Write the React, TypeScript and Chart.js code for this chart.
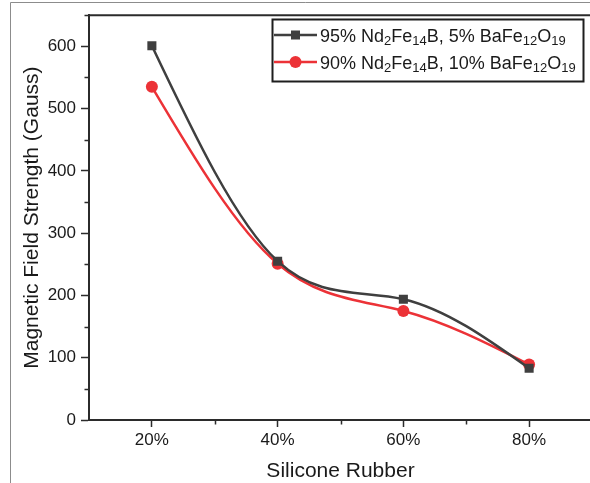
import React, { useEffect, useRef } from "react";
import { Chart, registerables } from "chart.js";

Chart.register(...registerables);

// ---- data ----
const xValues = [20, 40, 60, 80];
const series95 = [601, 255, 194, 83];
const series90 = [535, 251, 175, 89];
const xTicks = [20, 40, 60, 80];
const yTicks = [0, 100, 200, 300, 400, 500, 600];
const xMinorTicks = [30, 50, 70];
const yMinorTicks = [50, 150, 250, 350, 450, 550, 650];
const xTitle = "Silicone Rubber";
const yTitle = "Magnetic Field Strength (Gauss)";
// legend labels: [text, isSubscript]
const legend95: [string, boolean][] = [
  ["95% Nd", false], ["2", true], ["Fe", false], ["14", true],
  ["B, 5% BaFe", false], ["12", true], ["O", false], ["19", true],
];
const legend90: [string, boolean][] = [
  ["90% Nd", false], ["2", true], ["Fe", false], ["14", true],
  ["B, 10% BaFe", false], ["12", true], ["O", false], ["19", true],
];

const FONT = '"Liberation Sans", Arial, sans-serif';
const BLACK = "#3f3f3f";
const RED = "#ec3237";
const AXIS = "#2b2b2b";

// slopes of a natural cubic spline through (xs, ys), in data units
function naturalSlopes(xs: number[], ys: number[]): number[] {
  const n = xs.length;
  const h: number[] = [];
  for (let i = 0; i < n - 1; i++) h.push(xs[i + 1] - xs[i]);
  const M = new Array(n).fill(0);
  if (n > 2) {
    const a: number[] = [], b: number[] = [], c: number[] = [], d: number[] = [];
    for (let i = 1; i < n - 1; i++) {
      a.push(h[i - 1]);
      b.push(2 * (h[i - 1] + h[i]));
      c.push(h[i]);
      d.push(6 * ((ys[i + 1] - ys[i]) / h[i] - (ys[i] - ys[i - 1]) / h[i - 1]));
    }
    const m = b.length;
    for (let i = 1; i < m; i++) {
      const w = a[i] / b[i - 1];
      b[i] -= w * c[i - 1];
      d[i] -= w * d[i - 1];
    }
    const sol = new Array(m).fill(0);
    sol[m - 1] = d[m - 1] / b[m - 1];
    for (let i = m - 2; i >= 0; i--) sol[i] = (d[i] - c[i] * sol[i + 1]) / b[i];
    for (let i = 0; i < m; i++) M[i + 1] = sol[i];
  }
  const s: number[] = [];
  for (let i = 0; i < n - 1; i++) {
    s.push((ys[i + 1] - ys[i]) / h[i] - (h[i] * (2 * M[i] + M[i + 1])) / 6);
  }
  const k = n - 1;
  s.push((ys[k] - ys[k - 1]) / h[k - 1] + (h[k - 1] * (M[k - 1] + 2 * M[k])) / 6);
  return s;
}

// sets the line's Bezier control points so Chart.js draws a natural cubic spline
const splinePlugin = {
  id: "naturalSpline",
  beforeDatasetsDraw(chart: any) {
    const xs = chart.scales.x;
    const ys = chart.scales.y;
    chart.data.datasets.forEach((ds: any, di: number) => {
      const meta = chart.getDatasetMeta(di);
      const px = ds.data.map((p: any) => p.x);
      const py = ds.data.map((p: any) => p.y);
      const slopes = naturalSlopes(px, py);
      const pts = meta.data;
      for (let i = 0; i < pts.length; i++) {
        const hPrev = i > 0 ? (px[i] - px[i - 1]) / 3 : 0;
        const hNext = i < pts.length - 1 ? (px[i + 1] - px[i]) / 3 : 0;
        pts[i].cp1x = xs.getPixelForValue(px[i] - hPrev);
        pts[i].cp1y = ys.getPixelForValue(py[i] - slopes[i] * hPrev);
        pts[i].cp2x = xs.getPixelForValue(px[i] + hNext);
        pts[i].cp2y = ys.getPixelForValue(py[i] + slopes[i] * hNext);
      }
      if (meta.dataset) meta.dataset._pointsUpdated = true;
    });
  },
};

function drawRich(ctx: CanvasRenderingContext2D, parts: [string, boolean][], x: number, y: number) {
  let cx = x;
  for (const [t, sub] of parts) {
    ctx.font = sub ? `13px ${FONT}` : `18px ${FONT}`;
    ctx.fillText(t, cx, sub ? y + 3 : y);
    cx += ctx.measureText(t).width;
  }
}

const decor = {
  id: "decor",
  afterDraw(chart: any) {
    const { ctx, chartArea, scales } = chart;
    const xs = scales.x;
    const ys = scales.y;
    ctx.save();
    // outer figure frame
    ctx.strokeStyle = "#8c8c8c";
    ctx.lineWidth = 1;
    ctx.beginPath();
    ctx.moveTo(10.5, 490);
    ctx.lineTo(10.5, 2.5);
    ctx.lineTo(620, 2.5);
    ctx.stroke();
    // top spine
    ctx.strokeStyle = AXIS;
    ctx.lineWidth = 2;
    ctx.beginPath();
    ctx.moveTo(chartArea.left - 1, chartArea.top);
    ctx.lineTo(chartArea.right + 1, chartArea.top);
    ctx.stroke();
    // minor ticks
    ctx.lineWidth = 1.5;
    ctx.beginPath();
    for (const v of xMinorTicks) {
      const px = Math.round(xs.getPixelForValue(v)) + 0.5;
      ctx.moveTo(px, chartArea.bottom);
      ctx.lineTo(px, chartArea.bottom + 4.5);
    }
    for (const v of yMinorTicks) {
      const py = Math.round(ys.getPixelForValue(v)) + 0.5;
      if (py < chartArea.top) continue;
      ctx.moveTo(chartArea.left, py);
      ctx.lineTo(chartArea.left - 4.5, py);
    }
    ctx.stroke();
    // legend
    const bx = 272.5, by = 19.5, bw = 311, bh = 62;
    ctx.fillStyle = "#ffffff";
    ctx.fillRect(bx, by, bw, bh);
    ctx.strokeStyle = "#1e1e1e";
    ctx.lineWidth = 2;
    ctx.strokeRect(bx, by, bw, bh);
    const rows = [
      { y: 35, color: BLACK, parts: legend95, shape: "rect" },
      { y: 62, color: RED, parts: legend90, shape: "circle" },
    ];
    for (const r of rows) {
      ctx.strokeStyle = r.color;
      ctx.lineWidth = 2.5;
      ctx.beginPath();
      ctx.moveTo(274, r.y);
      ctx.lineTo(317, r.y);
      ctx.stroke();
      ctx.fillStyle = r.color;
      if (r.shape === "rect") {
        ctx.fillRect(295.5 - 4.5, r.y - 4.5, 9, 9);
      } else {
        ctx.beginPath();
        ctx.arc(295.5, r.y, 6, 0, Math.PI * 2);
        ctx.fill();
      }
      ctx.fillStyle = "#1a1a1a";
      ctx.textBaseline = "alphabetic";
      ctx.textAlign = "left";
      drawRich(ctx, r.parts, 320, r.y + 6.5);
    }
    ctx.restore();
  },
};

export default function App() {
  const ref = useRef<HTMLCanvasElement | null>(null);
  useEffect(() => {
    if (!ref.current) return;
    const chart = new Chart(ref.current, {
      type: "line",
      data: {
        datasets: [
          {
            label: "95% Nd2Fe14B, 5% BaFe12O19",
            data: xValues.map((x, i) => ({ x, y: series95[i] })),
            borderColor: BLACK,
            backgroundColor: BLACK,
            borderWidth: 2.5,
            pointStyle: "rect",
            pointRadius: 6.4,
            pointBorderWidth: 0,
            tension: 0.4,
          },
          {
            label: "90% Nd2Fe14B, 10% BaFe12O19",
            data: xValues.map((x, i) => ({ x, y: series90[i] })),
            borderColor: RED,
            backgroundColor: RED,
            borderWidth: 2.5,
            pointStyle: "circle",
            pointRadius: 6,
            pointBorderWidth: 0,
            tension: 0.4,
          },
        ],
      },
      options: {
        responsive: false,
        animation: false,
        devicePixelRatio: 1,
        layout: { padding: { top: 13, right: 8, left: 0, bottom: 0 } },
        plugins: { legend: { display: false }, tooltip: { enabled: false } },
        scales: {
          x: {
            type: "linear",
            min: 10,
            max: 90,
            afterBuildTicks: (s: any) => { s.ticks = xTicks.map((v) => ({ value: v })); },
            afterFit: (s: any) => { s.height = 63; },
            ticks: {
              callback: (v: any) => `${v}%`,
              color: "#1a1a1a",
              font: { family: FONT, size: 17 },
              padding: 3,
              maxRotation: 0,
            },
            grid: {
              drawOnChartArea: false,
              drawTicks: true,
              tickLength: 7,
              tickColor: AXIS,
              tickWidth: 1.5,
            },
            border: { display: true, color: AXIS, width: 2 },
            title: {
              display: true,
              text: xTitle,
              color: "#1a1a1a",
              font: { family: FONT, size: 21 },
              padding: { top: 0, bottom: -1 },
            },
          },
          y: {
            type: "linear",
            min: 0,
            max: 650,
            afterBuildTicks: (s: any) => { s.ticks = yTicks.map((v) => ({ value: v })); },
            afterFit: (s: any) => { s.width = 89; },
            ticks: {
              color: "#1a1a1a",
              font: { family: FONT, size: 17 },
              padding: 5,
            },
            grid: {
              drawOnChartArea: false,
              drawTicks: true,
              tickLength: 8,
              tickColor: AXIS,
              tickWidth: 1.5,
            },
            border: { display: true, color: AXIS, width: 2 },
            title: {
              display: true,
              text: yTitle,
              color: "#1a1a1a",
              font: { family: FONT, size: 21 },
              padding: { top: 20, bottom: 0 },
            },
          },
        },
      },
      plugins: [splinePlugin, decor],
    } as any);
    return () => chart.destroy();
  }, []);
  return (
    <div style={{ position: "fixed", left: 0, top: 0, width: 590, height: 483, overflow: "hidden", background: "#fff" }}>
      <canvas ref={ref} width={600} height={483} style={{ width: 600, height: 483, display: "block" }} />
    </div>
  );
}
